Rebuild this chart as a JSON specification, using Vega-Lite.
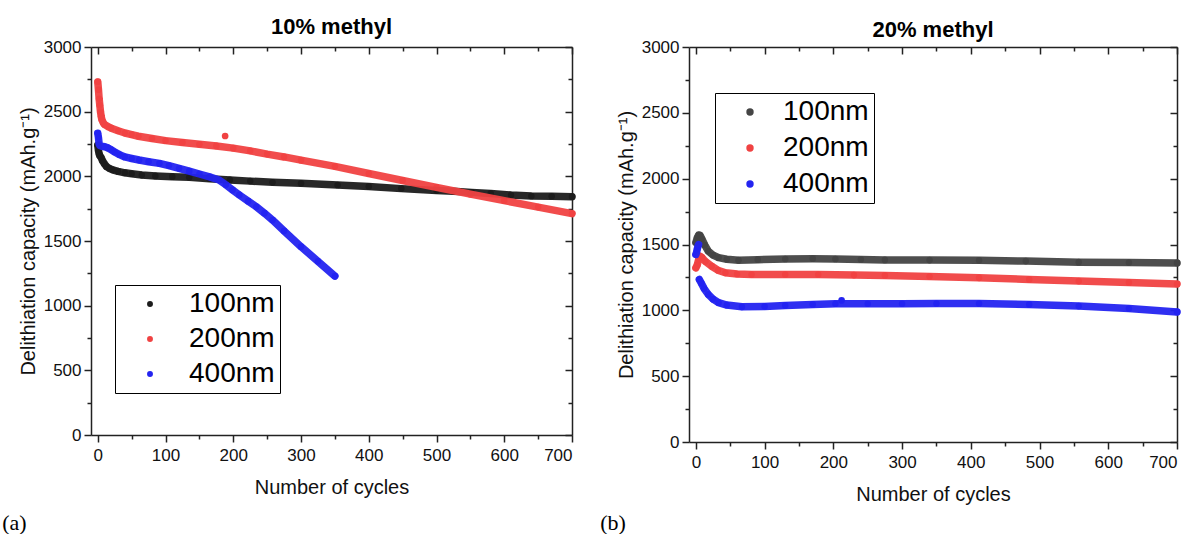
{
  "$schema": "https://vega.github.io/schema/vega-lite/v6.json",
  "padding": {"left": 2, "top": 16, "right": 0, "bottom": 0},
  "background": "white",
  "config": {
    "font": "Liberation Sans",
    "view": {"stroke": null},
    "axis": {"grid": false, "domainColor": "#222", "tickColor": "#222", "domainWidth": 1.5, "tickWidth": 1.5, "labelColor": "#111", "titleColor": "#111", "labelFontSize": 17, "titleFontSize": 20, "titleFontWeight": "normal", "labelFont": "Liberation Sans", "titleFont": "Liberation Sans"}
  },
  "datasets": {
    "a": [
      {"c":0,"v":2240,"s":"100nm"},{"c":1,"v":2200,"s":"100nm"},{"c":2,"v":2175,"s":"100nm"},{"c":3,"v":2160,"s":"100nm"},{"c":5,"v":2145,"s":"100nm"},{"c":7,"v":2120,"s":"100nm"},{"c":10,"v":2095,"s":"100nm"},{"c":13,"v":2075,"s":"100nm"},{"c":17,"v":2062,"s":"100nm"},{"c":22,"v":2050,"s":"100nm"},{"c":30,"v":2038,"s":"100nm"},{"c":40,"v":2027,"s":"100nm"},{"c":50,"v":2020,"s":"100nm"},{"c":65,"v":2010,"s":"100nm"},{"c":85,"v":2003,"s":"100nm"},{"c":110,"v":1997,"s":"100nm"},{"c":135,"v":1992,"s":"100nm"},{"c":165,"v":1982,"s":"100nm"},{"c":195,"v":1972,"s":"100nm"},{"c":225,"v":1963,"s":"100nm"},{"c":258,"v":1954,"s":"100nm"},{"c":300,"v":1946,"s":"100nm"},{"c":354,"v":1933,"s":"100nm"},{"c":400,"v":1922,"s":"100nm"},{"c":448,"v":1905,"s":"100nm"},{"c":500,"v":1890,"s":"100nm"},{"c":525,"v":1885,"s":"100nm"},{"c":552,"v":1876,"s":"100nm"},{"c":580,"v":1868,"s":"100nm"},{"c":610,"v":1855,"s":"100nm"},{"c":640,"v":1848,"s":"100nm"},{"c":670,"v":1846,"s":"100nm"},{"c":700,"v":1843,"s":"100nm"},
      {"c":0,"v":2730,"s":"200nm"},{"c":1,"v":2670,"s":"200nm"},{"c":2,"v":2600,"s":"200nm"},{"c":3,"v":2550,"s":"200nm"},{"c":4,"v":2500,"s":"200nm"},{"c":5,"v":2465,"s":"200nm"},{"c":6,"v":2440,"s":"200nm"},{"c":8,"v":2415,"s":"200nm"},{"c":10,"v":2400,"s":"200nm"},{"c":15,"v":2385,"s":"200nm"},{"c":20,"v":2372,"s":"200nm"},{"c":30,"v":2352,"s":"200nm"},{"c":40,"v":2335,"s":"200nm"},{"c":50,"v":2322,"s":"200nm"},{"c":60,"v":2310,"s":"200nm"},{"c":80,"v":2292,"s":"200nm"},{"c":100,"v":2276,"s":"200nm"},{"c":125,"v":2262,"s":"200nm"},{"c":150,"v":2248,"s":"200nm"},{"c":175,"v":2235,"s":"200nm"},{"c":200,"v":2218,"s":"200nm"},{"c":225,"v":2197,"s":"200nm"},{"c":250,"v":2172,"s":"200nm"},{"c":275,"v":2150,"s":"200nm"},{"c":300,"v":2125,"s":"200nm"},{"c":350,"v":2077,"s":"200nm"},{"c":400,"v":2022,"s":"200nm"},{"c":450,"v":1968,"s":"200nm"},{"c":500,"v":1915,"s":"200nm"},{"c":550,"v":1862,"s":"200nm"},{"c":600,"v":1812,"s":"200nm"},{"c":650,"v":1762,"s":"200nm"},{"c":700,"v":1712,"s":"200nm"},
      {"c":188,"v":2312,"s":"200nm","o":true},
      {"c":0,"v":2333,"s":"400nm"},{"c":1,"v":2300,"s":"400nm"},{"c":2,"v":2250,"s":"400nm"},{"c":3,"v":2238,"s":"400nm"},{"c":6,"v":2232,"s":"400nm"},{"c":10,"v":2229,"s":"400nm"},{"c":15,"v":2220,"s":"400nm"},{"c":20,"v":2205,"s":"400nm"},{"c":25,"v":2188,"s":"400nm"},{"c":32,"v":2168,"s":"400nm"},{"c":40,"v":2150,"s":"400nm"},{"c":50,"v":2138,"s":"400nm"},{"c":61,"v":2126,"s":"400nm"},{"c":75,"v":2113,"s":"400nm"},{"c":91,"v":2100,"s":"400nm"},{"c":105,"v":2083,"s":"400nm"},{"c":120,"v":2062,"s":"400nm"},{"c":135,"v":2040,"s":"400nm"},{"c":150,"v":2018,"s":"400nm"},{"c":165,"v":1996,"s":"400nm"},{"c":179,"v":1972,"s":"400nm"},{"c":189,"v":1935,"s":"400nm"},{"c":199,"v":1895,"s":"400nm"},{"c":209,"v":1856,"s":"400nm"},{"c":222,"v":1808,"s":"400nm"},{"c":234,"v":1765,"s":"400nm"},{"c":246,"v":1715,"s":"400nm"},{"c":258,"v":1662,"s":"400nm"},{"c":275,"v":1578,"s":"400nm"},{"c":300,"v":1456,"s":"400nm"},{"c":325,"v":1343,"s":"400nm"},{"c":350,"v":1229,"s":"400nm"}
    ],
    "b": [
      {"c":0,"v":1515,"s":"100nm"},{"c":2,"v":1550,"s":"100nm"},{"c":4,"v":1572,"s":"100nm"},{"c":6,"v":1570,"s":"100nm"},{"c":9,"v":1540,"s":"100nm"},{"c":13,"v":1495,"s":"100nm"},{"c":18,"v":1450,"s":"100nm"},{"c":25,"v":1420,"s":"100nm"},{"c":33,"v":1400,"s":"100nm"},{"c":45,"v":1388,"s":"100nm"},{"c":62,"v":1381,"s":"100nm"},{"c":90,"v":1385,"s":"100nm"},{"c":130,"v":1390,"s":"100nm"},{"c":170,"v":1392,"s":"100nm"},{"c":203,"v":1390,"s":"100nm"},{"c":240,"v":1386,"s":"100nm"},{"c":275,"v":1383,"s":"100nm"},{"c":340,"v":1382,"s":"100nm"},{"c":412,"v":1380,"s":"100nm"},{"c":480,"v":1374,"s":"100nm"},{"c":557,"v":1366,"s":"100nm"},{"c":630,"v":1363,"s":"100nm"},{"c":700,"v":1360,"s":"100nm"},
      {"c":0,"v":1323,"s":"200nm"},{"c":2,"v":1345,"s":"200nm"},{"c":4,"v":1385,"s":"200nm"},{"c":6,"v":1411,"s":"200nm"},{"c":9,"v":1400,"s":"200nm"},{"c":14,"v":1370,"s":"200nm"},{"c":23,"v":1335,"s":"200nm"},{"c":32,"v":1305,"s":"200nm"},{"c":43,"v":1285,"s":"200nm"},{"c":60,"v":1276,"s":"200nm"},{"c":81,"v":1272,"s":"200nm"},{"c":130,"v":1272,"s":"200nm"},{"c":178,"v":1272,"s":"200nm"},{"c":230,"v":1268,"s":"200nm"},{"c":275,"v":1265,"s":"200nm"},{"c":340,"v":1257,"s":"200nm"},{"c":412,"v":1247,"s":"200nm"},{"c":485,"v":1235,"s":"200nm"},{"c":557,"v":1222,"s":"200nm"},{"c":630,"v":1212,"s":"200nm"},{"c":700,"v":1200,"s":"200nm"},
      {"c":0,"v":1424,"s":"400nm","g":"start"},{"c":1,"v":1440,"s":"400nm","g":"start"},{"c":2,"v":1465,"s":"400nm","g":"start"},{"c":3,"v":1485,"s":"400nm","g":"start"},{"c":4,"v":1500,"s":"400nm","g":"start"},
      {"c":5,"v":1234,"s":"400nm"},{"c":8,"v":1205,"s":"400nm"},{"c":12,"v":1165,"s":"400nm"},{"c":18,"v":1121,"s":"400nm"},{"c":25,"v":1085,"s":"400nm"},{"c":33,"v":1058,"s":"400nm"},{"c":45,"v":1040,"s":"400nm"},{"c":67,"v":1027,"s":"400nm"},{"c":100,"v":1030,"s":"400nm"},{"c":130,"v":1037,"s":"400nm"},{"c":170,"v":1045,"s":"400nm"},{"c":203,"v":1050,"s":"400nm"},{"c":250,"v":1050,"s":"400nm"},{"c":300,"v":1050,"s":"400nm"},{"c":350,"v":1052,"s":"400nm"},{"c":412,"v":1052,"s":"400nm"},{"c":485,"v":1045,"s":"400nm"},{"c":557,"v":1032,"s":"400nm"},{"c":630,"v":1014,"s":"400nm"},{"c":700,"v":988,"s":"400nm"},
      {"c":212,"v":1075,"s":"400nm","o":true}
    ]
  },
  "resolve": {"scale": {"color": "independent"}, "legend": {"color": "independent"}},
  "spacing": 24,
  "hconcat": [
    {
      "title": {"text": "(a)", "orient": "bottom", "anchor": "start", "font": "Liberation Serif", "fontSize": 22, "fontWeight": "normal", "color": "black", "offset": 16, "dx": -16},
      "vconcat": [
        {
          "width": 481, "height": 388,
          "title": {"text": "10% methyl", "fontSize": 22, "fontWeight": "bold", "offset": -1, "anchor": "middle", "color": "black"},
          "data": {"name": "a"},
          "resolve": {"axis": {"x": "independent", "y": "independent"}},
          "layer": [
            {
              "mark": {"type": "point", "filled": true, "size": 45, "opacity": 1},
              "encoding": {
                "x": {"field": "c", "type": "quantitative", "scale": {"domain": [-10, 700], "nice": false, "zero": false},
                  "axis": {"orient": "bottom", "title": "Number of cycles", "values": [0,50,100,150,200,250,300,350,400,450,500,550,600,650,700], "labelExpr": "datum.value % 100 == 0 ? datum.label : ''", "tickSize": {"condition": {"test": "datum.value % 100 != 0", "value": 4}, "value": 7}, "labelPadding": 5, "titlePadding": 14}},
                "y": {"field": "v", "type": "quantitative", "scale": {"domain": [0, 3000], "nice": false},
                  "axis": {"orient": "left", "title": "Delithiation capacity (mAh.g⁻¹)", "values": [0,250,500,750,1000,1250,1500,1750,2000,2250,2500,2750,3000], "labelExpr": "datum.value % 500 == 0 ? datum.label : ''", "format": "d", "tickSize": {"condition": {"test": "datum.value % 500 != 0", "value": 4}, "value": 7}, "labelPadding": 3, "titlePadding": 5}},
                "color": {"field": "s", "type": "nominal", "scale": {"domain": ["100nm", "200nm", "400nm"], "range": ["#1c1c1c", "#f04242", "#2424f0"]},
                  "legend": {"orient": "none", "legendX": 24, "legendY": 238, "title": null, "labelFontSize": 28, "labelColor": "black", "labelFont": "Liberation Sans", "symbolType": "circle", "symbolSize": 35, "strokeColor": "black", "fillColor": "white", "padding": 5, "symbolOffset": 16, "labelOffset": 25, "rowPadding": 7, "symbolStrokeWidth": 0}}
              }
            },
            {
              "transform": [{"filter": "datum.o != true"}],
              "mark": {"type": "line", "strokeWidth": 7.5, "strokeCap": "round", "strokeJoin": "round", "opacity": 0.95},
              "encoding": {
                "x": {"field": "c", "type": "quantitative", "axis": null},
                "y": {"field": "v", "type": "quantitative", "axis": null},
                "color": {"field": "s", "type": "nominal", "legend": null},
                "detail": {"field": "g"}
              }
            },
            {
              "mark": {"type": "point", "opacity": 0},
              "encoding": {
                "x": {"field": "c", "type": "quantitative", "axis": {"orient": "top", "title": null, "labels": false, "values": [0,50,100,150,200,250,300,350,400,450,500,550,600,650,700], "tickSize": {"condition": {"test": "datum.value % 100 != 0", "value": -4}, "value": -7}}},
                "y": {"field": "v", "type": "quantitative", "axis": {"orient": "right", "title": null, "labels": false, "values": [0,250,500,750,1000,1250,1500,1750,2000,2250,2500,2750,3000], "tickSize": {"condition": {"test": "datum.value % 500 != 0", "value": -4}, "value": -7}}}
              }
            }
          ]
        }
      ]
    },
    {
      "title": {"text": "(b)", "orient": "bottom", "anchor": "start", "font": "Liberation Serif", "fontSize": 22, "fontWeight": "normal", "color": "black", "offset": 9, "dx": -16},
      "vconcat": [
        {
          "width": 488, "height": 395,
          "title": {"text": "20% methyl", "fontSize": 22, "fontWeight": "bold", "offset": -4, "anchor": "middle", "color": "black"},
          "data": {"name": "b"},
          "resolve": {"axis": {"x": "independent", "y": "independent"}},
          "layer": [
            {
              "mark": {"type": "point", "filled": true, "size": 45, "opacity": 1},
              "encoding": {
                "x": {"field": "c", "type": "quantitative", "scale": {"domain": [-10, 700], "nice": false, "zero": false},
                  "axis": {"orient": "bottom", "title": "Number of cycles", "values": [0,50,100,150,200,250,300,350,400,450,500,550,600,650,700], "labelExpr": "datum.value % 100 == 0 ? datum.label : ''", "tickSize": {"condition": {"test": "datum.value % 100 != 0", "value": 4}, "value": 7}, "labelPadding": 5, "titlePadding": 14}},
                "y": {"field": "v", "type": "quantitative", "scale": {"domain": [0, 3000], "nice": false},
                  "axis": {"orient": "left", "title": "Delithiation capacity (mAh.g⁻¹)", "values": [0,250,500,750,1000,1250,1500,1750,2000,2250,2500,2750,3000], "labelExpr": "datum.value % 500 == 0 ? datum.label : ''", "format": "d", "tickSize": {"condition": {"test": "datum.value % 500 != 0", "value": 4}, "value": 7}, "labelPadding": 3, "titlePadding": 5}},
                "color": {"field": "s", "type": "nominal", "scale": {"domain": ["100nm", "200nm", "400nm"], "range": ["#454545", "#f04242", "#2424f0"]},
                  "legend": {"orient": "none", "legendX": 26, "legendY": 46, "title": null, "labelFontSize": 28, "labelColor": "black", "labelFont": "Liberation Sans", "symbolType": "circle", "symbolSize": 55, "strokeColor": "black", "fillColor": "white", "padding": 5, "symbolOffset": 16, "labelOffset": 19, "rowPadding": 8, "symbolStrokeWidth": 0}}
              }
            },
            {
              "transform": [{"filter": "datum.o != true"}],
              "mark": {"type": "line", "strokeWidth": 7.5, "strokeCap": "round", "strokeJoin": "round", "opacity": 0.95},
              "encoding": {
                "x": {"field": "c", "type": "quantitative", "axis": null},
                "y": {"field": "v", "type": "quantitative", "axis": null},
                "color": {"field": "s", "type": "nominal", "legend": null},
                "detail": {"field": "g"}
              }
            },
            {
              "mark": {"type": "point", "opacity": 0},
              "encoding": {
                "x": {"field": "c", "type": "quantitative", "axis": {"orient": "top", "title": null, "labels": false, "values": [0,50,100,150,200,250,300,350,400,450,500,550,600,650,700], "tickSize": {"condition": {"test": "datum.value % 100 != 0", "value": -4}, "value": -7}}},
                "y": {"field": "v", "type": "quantitative", "axis": {"orient": "right", "title": null, "labels": false, "values": [0,250,500,750,1000,1250,1500,1750,2000,2250,2500,2750,3000], "tickSize": {"condition": {"test": "datum.value % 500 != 0", "value": -4}, "value": -7}}}
              }
            }
          ]
        }
      ]
    }
  ]
}
